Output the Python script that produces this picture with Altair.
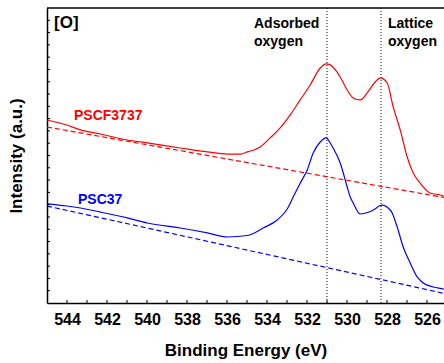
import altair as alt
import pandas as pd

# PSCF3737 measured spectrum (binding energy in eV, intensity in a.u.)
energy_pscf = [545.0, 544.0, 543.33, 542.33, 540.98, 539.98, 538.33, 536.98, 535.98, 535.33,
               534.98, 534.34, 533.84, 533.34, 532.84, 532.34, 531.84, 531.34, 531.04, 530.84,
               530.54, 530.34, 529.99, 529.69, 529.34, 528.99, 528.59, 528.33, 527.99, 527.69,
               527.34, 526.99, 526.69, 526.34, 525.84, 525.34, 525.0]
intensity_pscf = [14.89, 14.48, 14.08, 13.75, 13.26, 13.02, 12.61, 12.29, 12.12, 12.12,
                  12.29, 12.69, 13.43, 14.24, 15.30, 16.52, 17.74, 19.12, 19.45, 19.37,
                  18.88, 18.39, 17.33, 16.68, 16.52, 17.09, 17.98, 18.31, 17.90, 15.95,
                  14.08, 11.88, 10.58, 9.76, 8.95, 8.79, 8.62]

# PSC37 measured spectrum
energy_psc = [545.0, 544.0, 543.33, 542.33, 540.98, 539.98, 538.33, 536.98, 535.98, 534.98,
              534.19, 533.49, 532.99, 532.69, 532.34, 531.99, 531.69, 531.34, 531.04, 530.84,
              530.69, 530.34, 529.99, 529.84, 529.69, 529.34, 528.9, 528.6, 528.4, 528.19,
              528.0, 527.74, 527.49, 527.19, 526.84, 526.49, 526.19, 525.69, 525.19, 525.0]
intensity_psc = [8.06, 7.89, 7.73, 7.40, 6.92, 6.51, 6.10, 5.70, 5.37, 5.49,
                 6.10, 6.75, 7.65, 8.62, 9.75, 10.82, 12.20, 13.10, 13.43, 13.02,
                 12.61, 11.39, 9.44, 8.62, 8.14, 7.24, 7.40, 7.65, 7.89, 7.97,
                 7.81, 7.32, 6.18, 4.56, 3.25, 2.12, 1.63, 1.30, 1.14, 1.06]

# Linear backgrounds (dashed)
bg_energy = [545.0, 525.0]
bg_pscf = [14.32, 8.54]
bg_psc = [7.89, 0.73]

# Peak markers
peak_energy = [531.0, 528.3]

# Axis ticks
x_label_ticks = [544, 542, 540, 538, 536, 534, 532, 530, 528, 526]
x_minor_ticks = list(range(526, 545))
y_minor_ticks = list(range(1, 24))

series_names = ["PSCF3737", "PSC37"]
series_colors = ["#ff0000", "#0000ff"]

FONT = "Liberation Sans"
W, H = 397, 295

solid = pd.DataFrame(
    {"energy": energy_pscf + energy_psc,
     "intensity": intensity_pscf + intensity_psc,
     "series": ["PSCF3737"] * len(energy_pscf) + ["PSC37"] * len(energy_psc)}
)
dashed = pd.DataFrame(
    {"energy": bg_energy * 2,
     "intensity": bg_pscf + bg_psc,
     "series": ["PSCF3737"] * 2 + ["PSC37"] * 2}
)

xscale = alt.Scale(domain=[545, 525.15], nice=False, zero=False)
yscale = alt.Scale(domain=[0, 24], nice=False, zero=False)
cscale = alt.Scale(domain=series_names, range=series_colors)

x_axis = alt.Axis(values=x_label_ticks, tickSize=0, grid=False, labelFont=FONT,
                  labelFontSize=16, labelFontWeight="bold", labelColor="black",
                  labelPadding=8, labelFlush=False, title="Binding Energy (eV)",
                  titleFont=FONT, titleFontSize=17, titleFontWeight="bold",
                  titleColor="black", titlePadding=15, domainColor="black",
                  domainWidth=1.5)
y_axis = alt.Axis(labels=False, ticks=False, grid=False, title="Intensity (a.u.)",
                  titleFont=FONT, titleFontSize=17, titleFontWeight="bold",
                  titleColor="black", titlePadding=22, domainColor="black",
                  domainWidth=1.5)

lines = alt.Chart(solid).mark_line(strokeWidth=1.2, clip=True, interpolate="monotone").encode(
    x=alt.X("energy:Q", scale=xscale, axis=x_axis, title="Binding Energy (eV)"),
    y=alt.Y("intensity:Q", scale=yscale, axis=y_axis, title="Intensity (a.u.)"),
    color=alt.Color("series:N", scale=cscale, legend=None),
    detail="series:N",
)

bg_lines = alt.Chart(dashed).mark_line(strokeWidth=1.2, strokeDash=[5, 3], clip=True).encode(
    x=alt.X("energy:Q", scale=xscale, title="Binding Energy (eV)"),
    y=alt.Y("intensity:Q", scale=yscale, title="Intensity (a.u.)"),
    color=alt.Color("series:N", scale=cscale, legend=None),
    detail="series:N",
)

peaks = alt.Chart(pd.DataFrame({"energy": peak_energy})).mark_rule(
    color="#333333", strokeWidth=1.2, strokeDash=[1, 2]
).encode(x=alt.X("energy:Q", scale=xscale, title="Binding Energy (eV)"))

xticks = alt.Chart(pd.DataFrame({"energy": x_minor_ticks})).mark_rule(
    color="black", strokeWidth=1
).encode(x=alt.X("energy:Q", scale=xscale, title="Binding Energy (eV)"),
         y=alt.value(H), y2=alt.value(H - 3))

yticks = alt.Chart(pd.DataFrame({"intensity": y_minor_ticks})).mark_rule(
    color="black", strokeWidth=1
).encode(y=alt.Y("intensity:Q", scale=yscale, title="Intensity (a.u.)"),
         x=alt.value(0), x2=alt.value(3))

top_border = alt.Chart(pd.DataFrame({"a": [0]})).mark_rule(
    color="black", strokeWidth=1.5
).encode(x=alt.value(0), x2=alt.value(W), y=alt.value(0))

# annotations
ann = pd.DataFrame({
    "energy": [544.65, 534.65, 527.95],
    "intensity": [22.38, 22.38, 22.38],
    "label": ["[O]", "Adsorbed\noxygen", "Lattice\noxygen"],
    "size": [17, 14, 14],
})
ann_text = alt.Chart(ann).mark_text(
    font=FONT, fontWeight="bold", align="left", baseline="alphabetic",
    lineBreak="\n", lineHeight=18, color="black"
).encode(
    x=alt.X("energy:Q", scale=xscale, title="Binding Energy (eV)"),
    y=alt.Y("intensity:Q", scale=yscale, title="Intensity (a.u.)"),
    text="label:N",
    size=alt.Size("size:Q", scale=None, legend=None),
)

series_lab = pd.DataFrame({
    "energy": [543.65, 543.45],
    "intensity": [14.89, 8.06],
    "series": series_names,
})
series_text = alt.Chart(series_lab).mark_text(
    font=FONT, fontWeight="bold", fontSize=14, align="left", baseline="alphabetic"
).encode(
    x=alt.X("energy:Q", scale=xscale, title="Binding Energy (eV)"),
    y=alt.Y("intensity:Q", scale=yscale, title="Intensity (a.u.)"),
    text="series:N",
    color=alt.Color("series:N", scale=cscale, legend=None),
)

chart = alt.layer(
    peaks, bg_lines, lines, xticks, yticks, top_border, ann_text, series_text
).properties(
    width=W, height=H,
    autosize=alt.AutoSizeParams(type="none"),
    padding={"left": 47, "top": 8, "right": 0, "bottom": 60},
    background="white",
).configure_view(stroke=None)

chart.save("out.html", embed_options={"renderer": "svg", "actions": False})
